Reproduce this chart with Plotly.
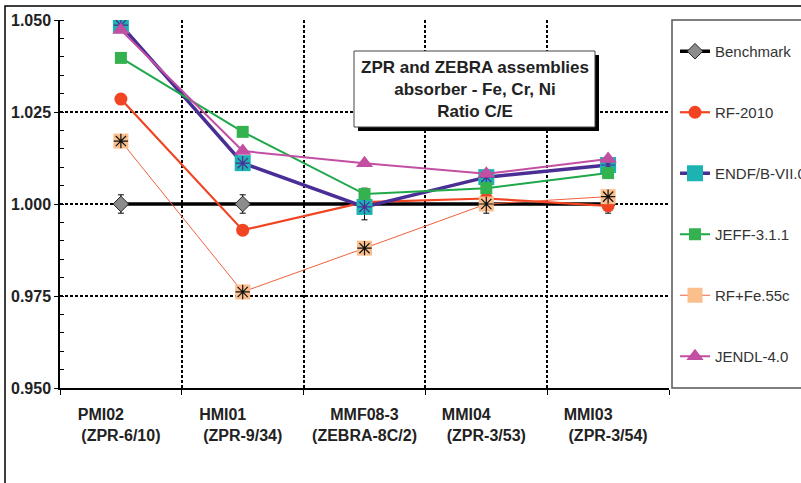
import plotly.graph_objects as go

# ---------------- data ----------------
cat_ids = ["PMI02", "HMI01", "MMF08-3", "MMI04", "MMI03"]
cat_sub = ["(ZPR-6/10)", "(ZPR-9/34)", "(ZEBRA-8C/2)", "(ZPR-3/53)", "(ZPR-3/54)"]

benchmark = [1.000, 1.000, 1.000, 1.000, 1.000]
benchmark_err = [0.0025, 0.0025, 0.0043, 0.0025, 0.0025]
rf2010 = [1.0285, 0.9929, 1.0005, 1.0015, 0.9995]
endf = [1.0486, 1.0111, 0.9992, 1.0073, 1.0106]
jeff = [1.0397, 1.0196, 1.0027, 1.0043, 1.0084]
rffe = [1.0171, 0.9761, 0.9880, 1.0000, 1.0020]
jendl = [1.0473, 1.0144, 1.0111, 1.0082, 1.0122]

y_ticks = [0.950, 0.975, 1.000, 1.025, 1.050]
title_lines = ["ZPR and ZEBRA assemblies", "absorber - Fe, Cr, Ni", "Ratio C/E"]

# ---------------- layout helpers ----------------
W, H = 801, 483
ML, MR, MT, MB = 60, 132, 20, 95
PW = W - ML - MR
PH = H - MT - MB


def px_x(p):
    return (p - ML) / PW


def px_y(p):
    return (H - MB - p) / PH


FONT = "Liberation Sans, Arial, sans-serif"
NB = "\u00a0"

ticktext = []
for a, b in zip(cat_ids, cat_sub):
    pad = NB * (0 if len(a) >= 7 else 9)
    ticktext.append(f"{a}{pad}<br>{b}")

fig = go.Figure()

# Benchmark
fig.add_trace(go.Scatter(
    x=cat_ids, y=benchmark, name="Benchmark", mode="lines+markers",
    line=dict(color="black", width=3.5),
    marker=dict(symbol="diamond", size=12, color="#8c8c8c",
                line=dict(color="#222222", width=1)),
    error_y=dict(type="data", array=benchmark_err, color="black",
                 thickness=1, width=3),
    legendgroup="g1",
))

# RF-2010
fig.add_trace(go.Scatter(
    x=cat_ids, y=rf2010, name="RF-2010", mode="lines+markers",
    line=dict(color="#f04422", width=2.2),
    marker=dict(symbol="circle", size=13, color="#f04422"),
    legendgroup="g2",
))

# ENDF/B-VII.0
fig.add_trace(go.Scatter(
    x=cat_ids, y=endf, name="ENDF/B-VII.0", mode="lines+markers",
    line=dict(color="#4a2e96", width=3.5),
    marker=dict(symbol="square", size=16, color="#1db3b3"),
    legendgroup="g3",
))
fig.add_trace(go.Scatter(
    x=cat_ids, y=endf, mode="markers", showlegend=False,
    marker=dict(symbol="asterisk-open", size=12, color="#4a2e96",
                line=dict(color="#4a2e96", width=1.2)),
    legendgroup="g3", hoverinfo="skip",
))

# JEFF-3.1.1
fig.add_trace(go.Scatter(
    x=cat_ids, y=jeff, name="JEFF-3.1.1", mode="lines+markers",
    line=dict(color="#1fa84a", width=2),
    marker=dict(symbol="square", size=12, color="#33b24f"),
    legendgroup="g4",
))

# RF+Fe.55c
fig.add_trace(go.Scatter(
    x=cat_ids, y=rffe, name="RF+Fe.55c", mode="lines+markers",
    line=dict(color="#f2603c", width=1),
    marker=dict(symbol="square", size=15, color="#fbbf8e"),
    legendgroup="g5",
))
fig.add_trace(go.Scatter(
    x=cat_ids, y=rffe, mode="markers", showlegend=False,
    marker=dict(symbol="asterisk-open", size=12, color="#111111",
                line=dict(color="#111111", width=1.2)),
    legendgroup="g5", hoverinfo="skip",
))

# JENDL-4.0
fig.add_trace(go.Scatter(
    x=cat_ids, y=jendl, name="JENDL-4.0", mode="lines+markers",
    line=dict(color="#c24fa2", width=2),
    marker=dict(symbol="triangle-up", size=15, color="#c24fa2"),
    legendgroup="g6",
))

shapes = [
    # outer frame
    dict(type="rect", xref="paper", yref="paper",
         x0=px_x(5), y0=px_y(560), x1=px_x(900), y1=px_y(6),
         line=dict(color="black", width=1.5), layer="below"),
    # legend box
    dict(type="rect", xref="paper", yref="paper",
         x0=px_x(672), y0=px_y(388), x1=px_x(900), y1=px_y(20),
         line=dict(color="#555555", width=1.5), layer="below"),
    # title box shadow
    dict(type="rect", xref="paper", yref="paper",
         x0=px_x(358), y0=px_y(131), x1=px_x(599), y1=px_y(55),
         line=dict(width=0), fillcolor="black", layer="above"),
    # title box
    dict(type="rect", xref="paper", yref="paper",
         x0=px_x(354), y0=px_y(127), x1=px_x(595), y1=px_y(51),
         line=dict(color="#444444", width=1), fillcolor="white", layer="above"),
]

fig.update_layout(
    width=W, height=H,
    margin=dict(l=ML, r=MR, t=MT, b=MB, autoexpand=False),
    paper_bgcolor="white", plot_bgcolor="white",
    font=dict(family=FONT, color="#222222"),
    shapes=shapes,
    showlegend=True,
    legend=dict(xref="container", yref="container",
                x=675 / W, y=1 - 35 / H, xanchor="left", yanchor="top",
                maxheight=440,
                font=dict(size=15, color="#333333", family=FONT),
                bgcolor="rgba(0,0,0,0)", tracegroupgap=38.5),
    annotations=[dict(
        xref="paper", yref="paper", x=px_x(474.5), y=px_y(89),
        xanchor="center", yanchor="middle", showarrow=False,
        text="<b>" + "<br>".join(title_lines) + "</b>",
        font=dict(size=17, color="#222222", family=FONT), align="center",
    )],
)

fig.update_xaxes(
    type="category", categoryorder="array", categoryarray=cat_ids,
    tickvals=cat_ids, ticktext=[f"<b>{t}</b>" for t in ticktext],
    tickson="boundaries", ticks="outside", ticklen=5, tickcolor="black",
    showgrid=True, gridcolor="black", gridwidth=2, griddash="3px,2px",
    showline=True, linecolor="black", linewidth=1.5,
    tickfont=dict(size=16, color="#222222", family=FONT),
    ticklabelstandoff=11,
    range=[-0.5, 4.5], zeroline=False,
)

fig.update_yaxes(
    range=[0.95, 1.05], tickvals=y_ticks,
    ticktext=[f"<b>{v:.3f}</b>" for v in y_ticks],
    ticks="outside", ticklen=4, tickcolor="black",
    showgrid=True, gridcolor="black", gridwidth=2, griddash="3px,2px",
    showline=True, linecolor="black", linewidth=1.5,
    tickfont=dict(size=16, color="#222222", family=FONT),
    minor=dict(dtick=0.005, ticks="inside", ticklen=4, tickcolor="black",
               showgrid=False),
    zeroline=False,
)

fig.write_html("out.html")
